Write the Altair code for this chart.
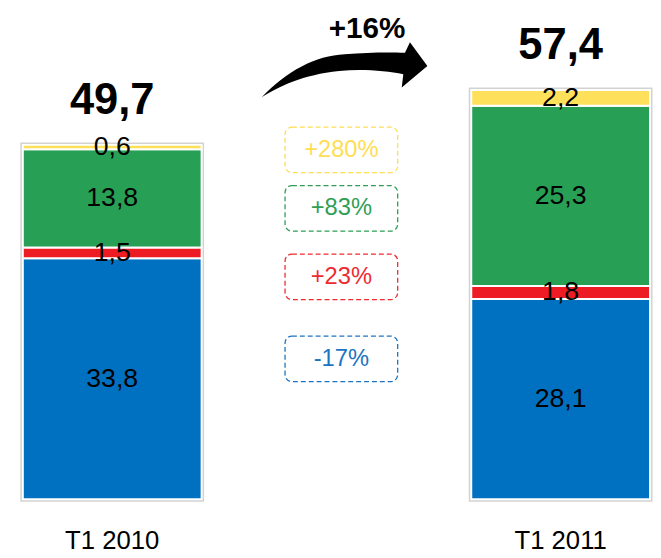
import altair as alt
import pandas as pd

# ---- data ----
periods = ["T1 2010", "T1 2011"]
series = ["bleu", "rouge", "vert", "jaune"]          # stacking order, bottom -> top
values_2010 = [33.8, 1.5, 13.8, 0.6]
values_2011 = [28.1, 1.8, 25.3, 2.2]
changes = ["-17%", "+23%", "+83%", "+280%"]          # per series change
total_change = "+16%"

# annotation levels (value units) for the change boxes / arrow
change_box_level = [19.7, 31.2, 40.8, 49.0]
arrow_level = 60.25
total_change_level = 64.7
period_label_level = -7.0

bar_colors = ["#0070C0", "#ED1C24", "#27A055", "#FFE05A"]
text_colors = ["#1C74C2", "#EE2B31", "#2E9F55", "#FFDD55"]

FONT = "Liberation Sans, Arial, sans-serif"
MID = "Δ"
x_domain = [periods[0], MID, periods[1]]


def fmt(v):
    return f"{v:.1f}".replace(".", ",")


rows = []
for p, vals in zip(periods, [values_2010, values_2011]):
    base = 0.0
    for i, (s, v) in enumerate(zip(series, vals)):
        rows.append(dict(period=p, series=s, order=i, value=v, y0=base,
                         y1=base + v, mid=base + v / 2, label=fmt(v)))
        base += v
seg = pd.DataFrame(rows)
tot = seg.groupby("period", as_index=False).agg(total=("value", "sum"))
tot["label"] = tot["total"].map(fmt)
tot["base"] = 0.0

box_half = 3.19
boxes = pd.DataFrame(dict(period=[MID] * 4, series=series, label=changes,
                          c=change_box_level))
boxes["top"] = boxes["c"] + box_half
boxes["bot"] = boxes["c"] - box_half

arrow_df = pd.DataFrame(dict(period=[MID], level=[arrow_level]))
tc_df = pd.DataFrame(dict(period=[MID], level=[total_change_level], label=[total_change]))
plab = pd.DataFrame(dict(period=periods, level=[period_label_level] * 2))

# ---- scales ----
xs = alt.Scale(domain=x_domain, range=[15, 650], paddingInner=0.2026, paddingOuter=0)
ys = alt.Scale(domain=[-7.756, 68.42], nice=False, zero=False)
X = alt.X("period:N", scale=xs, axis=None)

backing = alt.Chart(tot).mark_bar(fill="white", stroke="#d2d2d2", strokeWidth=5).encode(
    x=X, y=alt.Y("total:Q", scale=ys, axis=None), y2="base:Q")

bars = alt.Chart(seg).mark_bar(stroke="white", strokeWidth=2).encode(
    x=X,
    y=alt.Y("y1:Q", scale=ys, axis=None),
    y2="y0:Q",
    color=alt.Color("series:N", scale=alt.Scale(domain=series, range=bar_colors), legend=None),
)

seg_labels = alt.Chart(seg).mark_text(font=FONT, fontSize=27, baseline="middle",
                                      color="black").encode(
    x=X, y=alt.Y("mid:Q", scale=ys), text="label:N")

tot_labels = alt.Chart(tot).mark_text(font=FONT, fontSize=44, fontWeight="bold",
                                      baseline="alphabetic", dy=-31, color="black").encode(
    x=X, y=alt.Y("total:Q", scale=ys), text="label:N")

period_labels = alt.Chart(plab).mark_text(font=FONT, fontSize=26, baseline="alphabetic",
                                          color="black").encode(
    x=X, y=alt.Y("level:Q", scale=ys), text="period:N")

box_rects = alt.Chart(boxes).mark_bar(width={"band": 0.63}, cornerRadius=7, fill="white",
                                      strokeDash=[5, 3], strokeWidth=1.3, xOffset=5).encode(
    x=X, y=alt.Y("top:Q", scale=ys), y2="bot:Q",
    stroke=alt.Stroke("series:N", scale=alt.Scale(domain=series, range=text_colors), legend=None),
)

box_text = alt.Chart(boxes).mark_text(font=FONT, fontSize=24, baseline="middle", dx=5).encode(
    x=X, y=alt.Y("c:Q", scale=ys), text="label:N",
    fill=alt.Fill("series:N", scale=alt.Scale(domain=series, range=text_colors), legend=None),
)

arrow_path = ("M -0.9 0.333 C -0.6 0.02 -0.25 -0.17 0.1 -0.185 "
              "C 0.4 -0.21 0.65 -0.21 0.826 -0.202 L 0.886 -0.33 L 1.096 -0.044 "
              "L 0.787 0.214 L 0.806 0.056 C 0.6 0.01 0.3 -0.01 0.032 0.015 "
              "C -0.4 0.06 -0.7 0.2 -0.9 0.333 Z")

arrow = alt.Chart(arrow_df).mark_point(shape=arrow_path, size=28224, filled=True,
                                       color="black", opacity=1, strokeWidth=0).encode(
    x=X, y=alt.Y("level:Q", scale=ys))

tc_text = alt.Chart(tc_df).mark_text(font=FONT, fontSize=30, fontWeight="bold",
                                     baseline="alphabetic", dx=31, color="black").encode(
    x=X, y=alt.Y("level:Q", scale=ys), text="label:N")

chart = alt.layer(backing, bars, seg_labels, tot_labels, period_labels, box_rects,
                  box_text, arrow, tc_text).properties(
    width=653, height=550,
    autosize=alt.AutoSizeParams(type="none"),
    padding=0,
    background="white",
).configure_view(stroke=None)

chart.save("out.html", embed_options={"renderer": "svg", "actions": False})
